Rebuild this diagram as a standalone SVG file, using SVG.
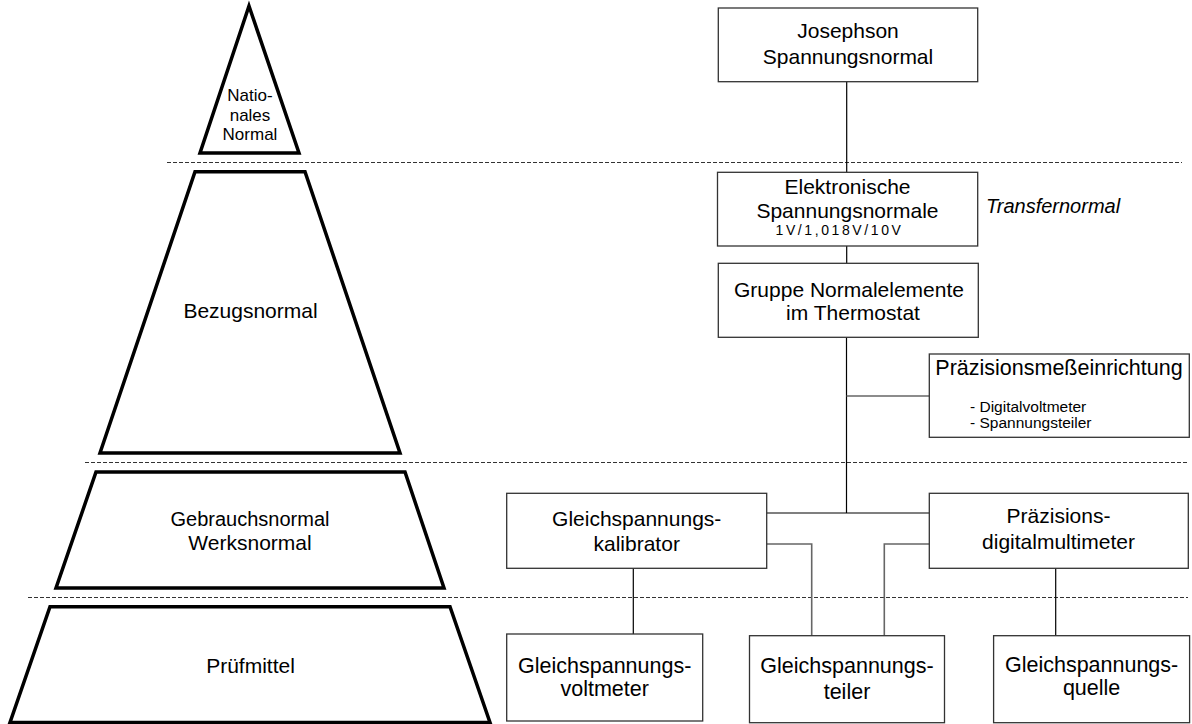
<svg xmlns="http://www.w3.org/2000/svg" width="1192" height="724" viewBox="0 0 1192 724">
  <style>
    text { font-family: "Liberation Sans", Arial, sans-serif; fill: #000; text-anchor: middle; }
    .lvl { fill: #fff; stroke: #000; stroke-width: 3.5; stroke-linejoin: miter; }
    .box { fill: #fff; stroke: #333; stroke-width: 1.3; }
    .sep { stroke: #333; stroke-width: 1; stroke-dasharray: 4 2; fill: none; }
    .wire { stroke: #000; stroke-width: 1.2; fill: none; }
    .wire-g { stroke: #666; stroke-width: 1.6; fill: none; }
    .t21 { font-size: 21px; }
    .small { font-size: 14px; letter-spacing: 2.6px; }
    .item { font-size: 15.5px; text-anchor: start; }
    .note { font-size: 20px; font-style: italic; text-anchor: start; }
  </style>

  <rect width="1192" height="724" fill="#fff"/>

  <!-- level separators -->
  <g id="separators">
    <line class="sep" x1="167" y1="162.5" x2="1182" y2="162.5"/>
    <line class="sep" x1="85" y1="462.5" x2="1188" y2="462.5"/>
    <line class="sep" x1="28" y1="597.5" x2="1188" y2="597.5"/>
  </g>

  <!-- hierarchy pyramid -->
  <g id="level-national">
    <polygon class="lvl" points="249,6 299,153 200,153"/>
    <text x="250" y="101" font-size="17">Natio-</text>
    <text x="250" y="120.5" font-size="17">nales</text>
    <text x="250" y="139.5" font-size="17">Normal</text>
  </g>
  <g id="level-bezug">
    <polygon class="lvl" points="195,171.7 305,171.7 400,453 100,453"/>
    <text x="250.5" y="318" font-size="21">Bezugsnormal</text>
  </g>
  <g id="level-gebrauch">
    <polygon class="lvl" points="96,472 405,472 444,588 56,588"/>
    <text x="250" y="526" font-size="20">Gebrauchsnormal</text>
    <text x="250" y="550" font-size="21">Werksnormal</text>
  </g>
  <g id="level-pruefmittel">
    <polygon class="lvl" points="50,606.7 450,606.7 490,722.5 10,722.5"/>
    <text x="250.5" y="673" font-size="21">Prüfmittel</text>
  </g>

  <!-- connectors -->
  <g id="connectors">
    <line class="wire" x1="846.7" y1="81.7" x2="846.7" y2="172.3"/>
    <line class="wire" x1="846.7" y1="246" x2="846.7" y2="263.3"/>
    <line class="wire" x1="846.5" y1="337.3" x2="846.5" y2="513"/>
    <line class="wire-g" x1="846.5" y1="396" x2="929.3" y2="396"/>
    <line class="wire" x1="766.7" y1="513" x2="929.3" y2="513"/>
    <polyline class="wire-g" points="766.7,544 811.7,544 811.7,635.7"/>
    <polyline class="wire-g" points="929.3,544 884.3,544 884.3,635.7"/>
    <line class="wire" x1="633.3" y1="568.3" x2="633.3" y2="634"/>
    <line class="wire" x1="1055.7" y1="568.3" x2="1055.7" y2="635.7"/>
  </g>

  <!-- nodes -->
  <g id="josephson">
    <rect class="box" x="718.3" y="8" width="259.4" height="73.7"/>
    <text class="t21" x="848" y="37.5">Josephson</text>
    <text class="t21" x="848" y="64">Spannungsnormal</text>
  </g>

  <g id="elektronisch">
    <rect class="box" x="717.5" y="172.3" width="260.2" height="73.7"/>
    <text class="t21" x="847.5" y="194.3">Elektronische</text>
    <text class="t21" x="847.5" y="218.3">Spannungsnormale</text>
    <text class="small" x="839.5" y="235">1V/1,018V/10V</text>
  </g>

  <g id="transfernormal">
    <text class="note" x="986" y="213.3">Transfernormal</text>
  </g>

  <g id="gruppe">
    <rect class="box" x="718.3" y="263.3" width="260" height="74"/>
    <text class="t21" x="849" y="296.7">Gruppe Normalelemente</text>
    <text class="t21" x="853" y="320">im Thermostat</text>
  </g>

  <g id="praezisionsmess">
    <rect class="box" x="929.3" y="354" width="260" height="83.3"/>
    <text x="1059" y="375" font-size="21.5">Präzisionsmeßeinrichtung</text>
    <text class="item" x="970" y="411.7">- Digitalvoltmeter</text>
    <text class="item" x="970" y="428.3">- Spannungsteiler</text>
  </g>

  <g id="kalibrator">
    <rect class="box" x="506.7" y="493.3" width="260" height="75"/>
    <text class="t21" x="636.7" y="526">Gleichspannungs-</text>
    <text class="t21" x="636.7" y="550.7">kalibrator</text>
  </g>

  <g id="multimeter">
    <rect class="box" x="929.3" y="493.3" width="259" height="75"/>
    <text class="t21" x="1058.5" y="523.3">Präzisions-</text>
    <text class="t21" x="1058.5" y="549.3">digitalmultimeter</text>
  </g>

  <g id="voltmeter">
    <rect class="box" x="506.7" y="634" width="196" height="87"/>
    <text x="604.7" y="673.3" font-size="21.5">Gleichspannungs-</text>
    <text x="604.7" y="696" font-size="21.5">voltmeter</text>
  </g>

  <g id="teiler">
    <rect class="box" x="749.5" y="635.7" width="195" height="87"/>
    <text x="847" y="673.3" font-size="21.5">Gleichspannungs-</text>
    <text x="847" y="699" font-size="21.5">teiler</text>
  </g>

  <g id="quelle">
    <rect class="box" x="993.6" y="635.7" width="196" height="87"/>
    <text x="1091.6" y="671.7" font-size="21.5">Gleichspannungs-</text>
    <text x="1091.6" y="695" font-size="21.5">quelle</text>
  </g>
</svg>
